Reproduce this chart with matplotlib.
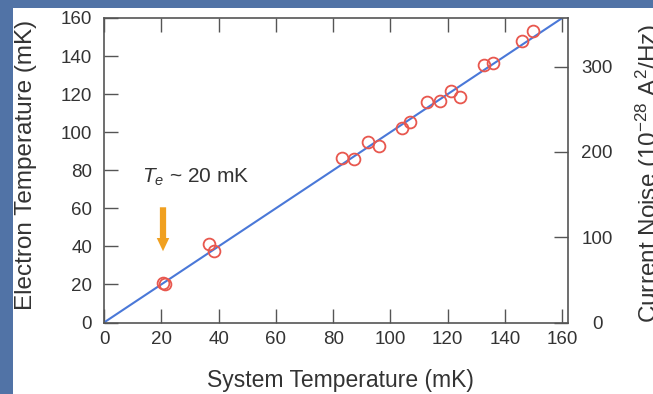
import matplotlib
matplotlib.use("Agg")
import matplotlib.pyplot as plt
from matplotlib.patches import Rectangle

plt.rcParams['font.family'] = ['Liberation Sans', 'DejaVu Sans']
plt.rcParams['mathtext.fontset'] = 'custom'
plt.rcParams['mathtext.rm'] = 'Liberation Sans'
plt.rcParams['mathtext.it'] = 'Liberation Sans:italic'

# measured points (system temperature vs electron temperature, mK)
t_sys = [20.7, 21.3, 36.8, 38.5, 83.1, 87.2, 92.2, 95.9, 104.1, 107.0,
         112.8, 117.2, 121.0, 124.3, 132.6, 135.9, 145.8, 149.8]
t_el = [20.8, 20.2, 41.4, 37.4, 86.4, 85.9, 94.8, 92.5, 102.1, 105.6,
        115.8, 116.5, 121.9, 118.7, 135.4, 136.2, 148.1, 153.2]
fit_x = [0, 160]
fit_y = [0, 160]

xticks = [0, 20, 40, 60, 80, 100, 120, 140, 160]
yticks = [0, 20, 40, 60, 80, 100, 120, 140, 160]
noise_ticks = [0, 100, 200, 300]

txt = '#333333'
fig = plt.figure(figsize=(6.53, 3.94), dpi=100, facecolor='#5173a6')
# white slide panel behind everything
fig.patches.append(Rectangle((13/653, 0), 1, 1 - 8/394, transform=fig.transFigure,
                             facecolor='white', edgecolor='none', zorder=-5))

ax = fig.add_axes([104/653, 1 - 322.5/394, 464/653, 304.5/394])
ax.set_facecolor('white')
ax.plot(fit_x, fit_y, color='#4a78d8', lw=1.5, zorder=2)
ax.plot(t_sys, t_el, 'o', mfc='none', mec='#e8574e', ms=8.5, mew=1.3, zorder=3)

ax.annotate('', xy=(20.6, 36.0), xytext=(20.6, 62.0),
            arrowprops=dict(arrowstyle='simple,head_width=0.9,head_length=0.95,tail_width=0.45',
                            mutation_scale=10, color='#f0a020', lw=0))
ax.text(13.3, 76.5, r'$T_e$ ~ 20 mK', fontsize=15, color=txt, va='center', ha='left')

ax.set_xlim(0, 162)
ax.set_ylim(0, 160)
ax.set_xticks(xticks)
ax.set_yticks(yticks)
ax.tick_params(direction='in', length=10, width=1, colors='#555555', labelcolor=txt,
               labelsize=13.5, top=True)
ax.tick_params(axis='y', pad=8.5)
ax.tick_params(axis='x', pad=6)
for s in ax.spines.values():
    s.set_color('#555555')
    s.set_linewidth(1.2)

ax.set_xlabel('System Temperature (mK)', fontsize=16.5, color=txt, va='center')
ax.xaxis.set_label_coords(0.509, -0.192)
ax.set_ylabel('Electron Temperature (mK)', fontsize=17.5, color=txt, va='center')
ax.yaxis.set_label_coords(-0.168, 0.517)

ax2 = ax.twinx()
ax2.set_ylim(0, 357)
ax2.set_yticks(noise_ticks)
ax2.tick_params(direction='in', length=10, width=1, colors='#555555', labelcolor=txt,
                labelsize=13.5, pad=21)
for lab in ax2.get_yticklabels():
    lab.set_horizontalalignment('center')
for s in ax2.spines.values():
    s.set_visible(False)
ax2.set_ylabel(r'Current Noise (10$^{-28}$ A$^2$/Hz)', fontsize=17.5, color=txt,
               rotation=90, va='center')
ax2.yaxis.set_label_coords(1.175, 0.49)

fig.savefig('out.png', dpi=100, facecolor=fig.get_facecolor())
